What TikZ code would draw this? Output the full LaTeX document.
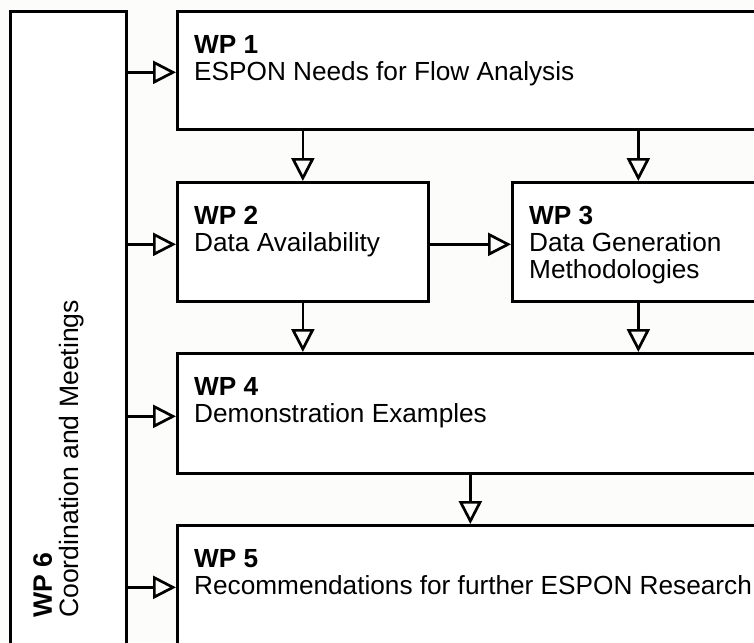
\documentclass[tikz,border=0pt]{standalone}
\usepackage{fontspec}
\setmainfont{Liberation Sans}
\usetikzlibrary{arrows.meta,calc}
\definecolor{bgc}{RGB}{252,252,250}
\begin{document}
\begin{tikzpicture}[x=1pt,y=-1pt,
  box/.style={draw=black, line width=2.7pt, fill=white, rectangle, inner sep=0pt, anchor=north west},
  lbl/.style={anchor=north west, inner sep=0pt, align=left, font=\fontsize{26.2}{27}\selectfont},
  arr/.style={line width=2.7pt, -{Triangle[open,length=23pt,width=23pt]}}]
\fill[bgc] (0,0) rectangle (754,642);
\useasboundingbox (0,0) rectangle (754,642);
\clip (0,0) rectangle (754,642);
\node[box, minimum width=116pt, minimum height=660pt] (wp6) at (9,10) {};
\node[box, minimum width=586pt, minimum height=118pt] (wp1) at (176,10) {};
\node[box, minimum width=251pt, minimum height=119pt] (wp2) at (176,181) {};
\node[box, minimum width=252pt, minimum height=119pt] (wp3) at (511,181) {};
\node[box, minimum width=586pt, minimum height=120pt] (wp4) at (176,352) {};
\node[box, minimum width=586pt, minimum height=124pt] (wp5) at (176,524) {};
\node[lbl] (t1) at ($(wp1.north west)+(18,25)$) {\textbf{WP 1}\\ESPON Needs for Flow Analysis};
\node[lbl] (t2) at ($(wp2.north west)+(18,25)$) {\textbf{WP 2}\\Data Availability};
\node[lbl] (t3) at ($(wp3.north west)+(18,25)$) {\textbf{WP 3}\\Data Generation\\Methodologies};
\node[lbl] (t4) at ($(wp4.north west)+(18,25)$) {\textbf{WP 4}\\Demonstration Examples};
\node[lbl] (t5) at ($(wp5.north west)+(18,25)$) {\textbf{WP 5}\\Recommendations for further ESPON Research};
\node[lbl, rotate=90, font=\fontsize{26.6}{27}\selectfont] (t6) at (33,618) {\textbf{WP 6}\\Coordination and Meetings};
\draw[arr] ($(wp6.east |- wp1.west)+(0,2)$) -- ($(wp1.west)+(0,2)$);
\draw[arr] ($(wp6.east |- wp2.west)+(0,2.5)$) -- ($(wp2.west)+(0,2.5)$);
\draw[arr] ($(wp6.east |- wp4.west)+(0,3)$) -- ($(wp4.west)+(0,3)$);
\draw[arr] (wp6.east |- wp5.west) -- (wp5.west);
\draw[arr] (wp1.south -| wp2.north) -- (wp2.north);
\draw[arr] (wp1.south -| wp3.north) -- (wp3.north);
\draw[arr] ($(wp2.east)+(0,2.5)$) -- ($(wp3.west)+(0,2.5)$);
\draw[arr] (wp2.south) -- (wp2.south |- wp4.north);
\draw[arr] (wp3.south) -- (wp3.south |- wp4.north);
\draw[arr] (wp4.south) -- (wp5.north);
\end{tikzpicture}
\end{document}
